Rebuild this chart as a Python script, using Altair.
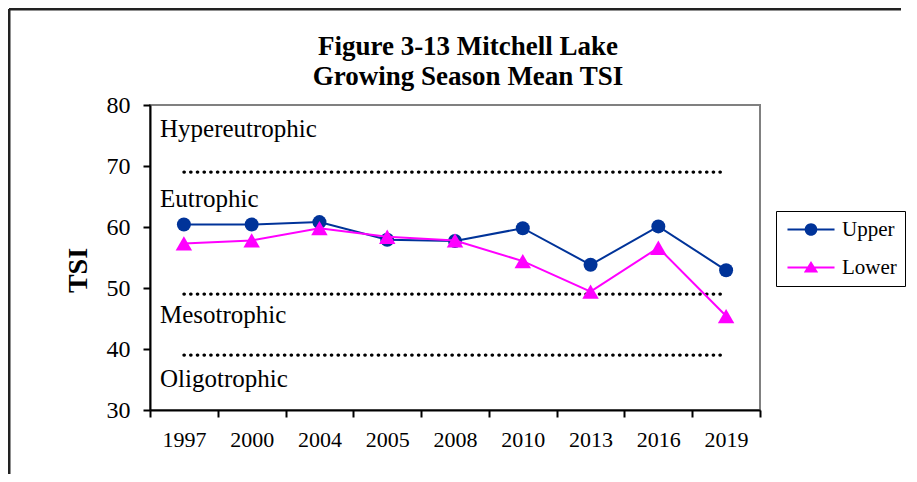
import altair as alt
import pandas as pd

# ---- data ----
years = ['1997', '2000', '2004', '2005', '2008', '2010', '2013', '2016', '2019']
upper = [60.4, 60.4, 60.8, 57.9, 57.7, 59.8, 53.8, 60.1, 52.9]
lower = [57.3, 57.8, 59.8, 58.4, 57.8, 54.4, 49.4, 56.6, 45.4]
series_names = ['Upper', 'Lower']
series_colors = ['#003399', '#FF00FF']
boundary_values = [69, 49, 39]
zone_names = ['Hypereutrophic', 'Eutrophic', 'Mesotrophic', 'Oligotrophic']
zone_label_y = [76, 64.6, 45.6, 35.1]
y_ticks = [30, 40, 50, 60, 70, 80]
title_lines = ['Figure 3-13 Mitchell Lake', 'Growing Season Mean  TSI']

FONT = 'Liberation Serif'

rows = []
for s, vals in zip(series_names, [upper, lower]):
    for yr, v in zip(years, vals):
        rows.append({'year': yr, 'series': s, 'tsi': v})
df = pd.DataFrame(rows)

bounds_df = pd.DataFrame([
    {'year': yr, 'level': str(b), 'tsi': b}
    for b in boundary_values for yr in (years[0], years[-1])
])
zones_df = pd.DataFrame({'zone': zone_names, 'tsi': zone_label_y})

x_scale = alt.Scale(type='band', domain=years, paddingInner=0, paddingOuter=0)
y_scale = alt.Scale(domain=[30, 80], nice=False, zero=False)
color_scale = alt.Scale(domain=series_names, range=series_colors)

x_axis = alt.Axis(title=None, tickBand='extent', labelAngle=0, labelFont=FONT,
                  labelFontSize=22, labelColor='black', labelPadding=12,
                  tickSize=7, tickWidth=2, tickColor='black',
                  domainColor='black', domainWidth=2, grid=False)
y_axis = alt.Axis(values=y_ticks, title='TSI', labelFont=FONT, labelFontSize=24,
                  labelColor='black', labelPadding=13, tickSize=7, tickWidth=2,
                  tickColor='black', domainColor='black', domainWidth=2, grid=False,
                  titleFont=FONT, titleFontSize=28, titleFontWeight='bold',
                  titleColor='black', titleAngle=270, titleX=-64, titleY=165,
                  titleAlign='center', titleBaseline='alphabetic')

X = alt.X('year:N', sort=years, scale=x_scale, axis=x_axis)
Y = alt.Y('tsi:Q', scale=y_scale, axis=y_axis)

base = alt.Chart(df)
up = base.transform_filter(alt.datum.series == series_names[0])
lo = base.transform_filter(alt.datum.series == series_names[1])

line_upper = up.mark_line(strokeWidth=2, color=series_colors[0]).encode(x=X, y=Y)
line_lower = lo.mark_line(strokeWidth=2, color=series_colors[1]).encode(x=X, y=Y)
pts_upper = up.mark_point(filled=True, opacity=1, size=196, shape='circle',
                          color=series_colors[0]).encode(x=X, y=Y)
pts_lower = lo.mark_point(filled=True, opacity=1, size=272, shape='triangle-up',
                          color=series_colors[1]).encode(x=X, y=Y)

path_upper = ("M-1.17,-0.17L6.67,-0.17L6.67,0.17L-1.17,0.17Z "
              "M3.8,0A1.05,1.05 0 1,1 1.7,0A1.05,1.05 0 1,1 3.8,0Z")
path_lower = ("M-1.17,-0.17L6.67,-0.17L6.67,0.17L-1.17,0.17Z "
              "M2.75,-1.1L3.95,0.85L1.55,0.85Z")

legend = alt.Legend(title=None, orient='none', legendX=626, legendY=106,
                    strokeColor='black', padding=8, rowPadding=16,
                    labelFont=FONT, labelFontSize=21, labelColor='black',
                    labelOffset=37, symbolSize=144, symbolOpacity=1,
                    labelLimit=200)

legend_layer = base.transform_filter('false').mark_point(filled=True).encode(
    x=X, y=Y,
    color=alt.Color('series:N', scale=color_scale, legend=legend),
    shape=alt.Shape('series:N', scale=alt.Scale(domain=series_names,
                                                range=[path_upper, path_lower]),
                    legend=legend))

dotted = alt.Chart(bounds_df).mark_line(
    color='black', strokeWidth=3.2, strokeDash=[0.5, 6.2], strokeCap='round').encode(
    x=X, y=Y, detail='level:N')

zones = alt.Chart(zones_df).mark_text(
    align='left', baseline='middle', font=FONT, fontSize=25, color='black').encode(
    x=alt.value(10), y=Y, text='zone:N')

one = alt.Chart(pd.DataFrame({'a': [0]}))
border_left = one.mark_rule(color='#222222', strokeWidth=3).encode(
    x=alt.value(-141), y=alt.value(-96), y2=alt.value(369))
border_top = one.mark_rule(color='#222222', strokeWidth=3).encode(
    x=alt.value(-141), x2=alt.value(751), y=alt.value(-96))

title1 = one.mark_text(font=FONT, fontSize=27, fontWeight='bold', color='black',
                       align='center', baseline='middle').encode(
    x=alt.value(318), y=alt.value(-58), text=alt.value(title_lines[0]))
title2 = one.mark_text(font=FONT, fontSize=27, fontWeight='bold', color='black',
                       align='center', baseline='middle').encode(
    x=alt.value(318), y=alt.value(-28), text=alt.value(title_lines[1]))

chart = alt.layer(
    dotted, zones, line_upper, pts_upper, line_lower, pts_lower, legend_layer,
    border_left, border_top, title1, title2
).properties(
    width=610, height=305,
    autosize=alt.AutoSizeParams(type='none'),
    padding={'left': 142, 'top': 97, 'right': 149, 'bottom': 64},
).configure_view(stroke='#808080', strokeWidth=2)

chart.save('out.html', embed_options={'renderer': 'svg', 'actions': False})
